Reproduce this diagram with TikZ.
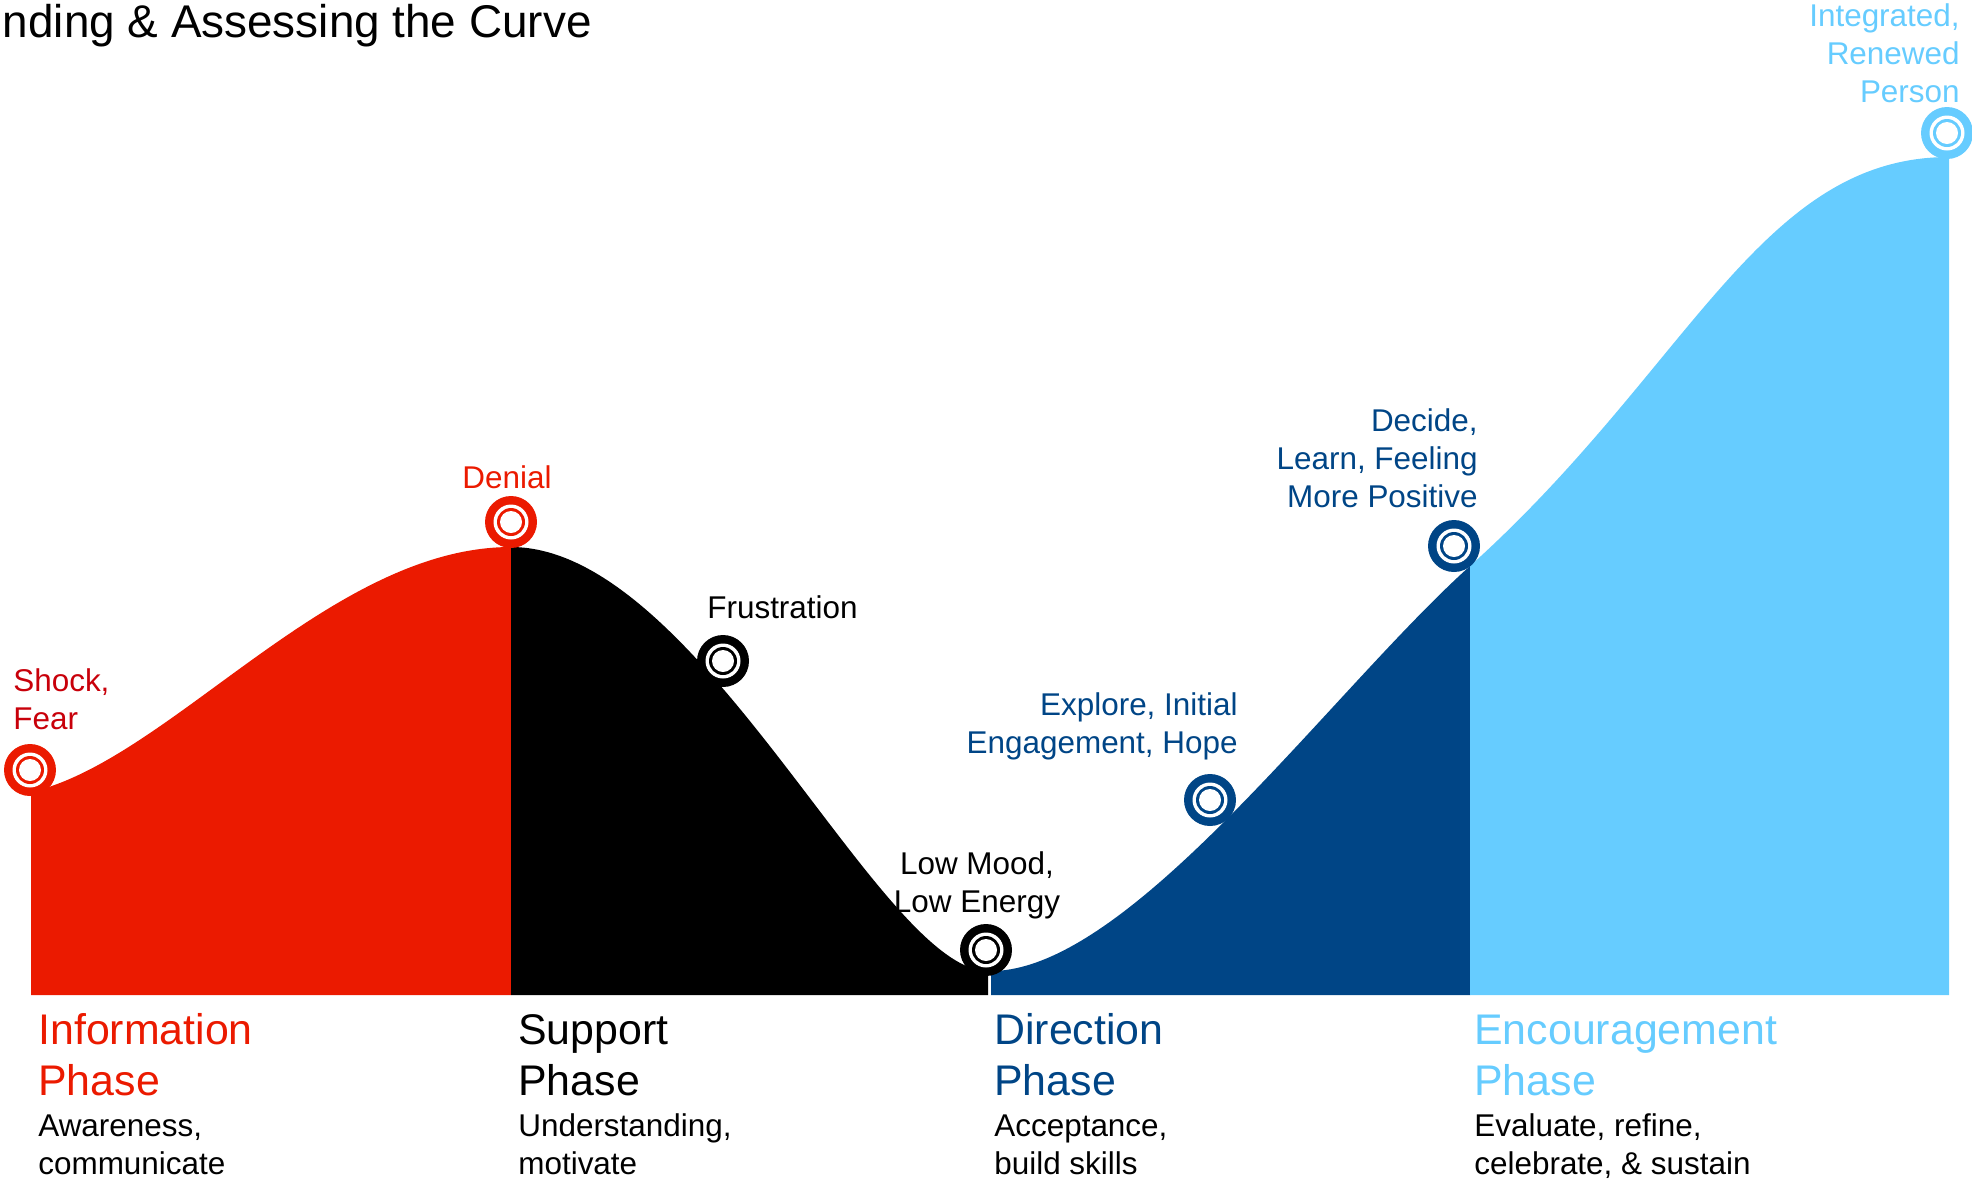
\documentclass[tikz,border=0pt]{standalone}
\usepackage{fontspec}
\setmainfont{Liberation Sans}
\usepackage{tikz}
\definecolor{RED}{HTML}{EB1A00}
\definecolor{DARKRED}{HTML}{C8000A}
\definecolor{BLACK}{HTML}{000000}
\definecolor{NAVY}{HTML}{004586}
\definecolor{SKY}{HTML}{66CCFF}

\newcommand{\ringmark}[2]{%
    \fill[#1] (#2) circle (26);
    \fill[white] (#2) circle (17.5);
    \fill[#1] (#2) circle (14);
    \fill[white] (#2) circle (11);
}

\begin{document}
\begin{tikzpicture}[x=0.02cm, y=-0.02cm,
    lbl/.style={inner sep=0pt, font=\fontsize{17.9}{21.5}\selectfont},
    phase/.style={inner sep=0pt, align=left, font=\fontsize{24.4}{28.9}\selectfont}]
    \useasboundingbox (0,0) rectangle (1972,1181);
    \node[anchor=base east, inner sep=0pt, font=\fontsize{26.1}{30}\selectfont] (title) at (592,37) {nding \& Assessing the Curve};
    \fill[RED] (31,995) -- (31,792) .. controls (170,760) and (330,547) .. (511,547) -- (511,995) -- cycle;
    \fill[BLACK] (511,995) -- (511,547) .. controls (700,547) and (880,971) .. (988,971) -- (988,995) -- cycle;
    \fill[NAVY] (991,995) -- (991,971) .. controls (1130,971) and (1330,692) .. (1470,566) -- (1470,995) -- cycle;
    \fill[SKY] (1470,995) -- (1470,566) .. controls (1690,368) and (1760,157) .. (1949,157) -- (1949,995) -- cycle;
    \ringmark{RED}{30,770}
    \ringmark{RED}{511,522}
    \ringmark{BLACK}{723,661}
    \ringmark{BLACK}{986,950}
    \ringmark{NAVY}{1210,800}
    \ringmark{NAVY}{1454,546}
    \ringmark{SKY}{1947,133}
    % multi-line nodes sit on the baseline of their last line
    \node[lbl, DARKRED, anchor=base west, align=left] (shock) at (13,729) {Shock,\\Fear};
    \node[lbl, RED, anchor=base] (denial) at (507,488) {Denial};
    \node[lbl, BLACK, anchor=base west] (frustration) at (707,618) {Frustration};
    \node[lbl, BLACK, anchor=base, align=center] (lowmood) at (977,912) {Low Mood,\\Low Energy};
    \node[lbl, NAVY, anchor=base east, align=right] (explore) at (1238,753) {Explore, Initial\\Engagement, Hope};
    \node[lbl, NAVY, anchor=base east, align=right] (decide) at (1478,507) {Decide,\\Learn, Feeling\\More Positive};
    \node[lbl, SKY, anchor=base east, align=right] (renewed) at (1960,102) {Integrated,\\Renewed\\Person};
    \node[phase, RED, anchor=base west] (info) at (38,1095) {Information\\Phase};
    \node[phase, BLACK, anchor=base west] (support) at (518,1095) {Support\\Phase};
    \node[phase, NAVY, anchor=base west] (direction) at (994,1095) {Direction\\Phase};
    \node[phase, SKY, anchor=base west] (encourage) at (1474,1095) {Encouragement\\Phase};
    \node[lbl, BLACK, anchor=base west, align=left] (infotext) at (38,1174) {Awareness,\\communicate};
    \node[lbl, BLACK, anchor=base west, align=left] (supporttext) at (518,1174) {Understanding,\\motivate};
    \node[lbl, BLACK, anchor=base west, align=left] (directiontext) at (994,1174) {Acceptance,\\build skills};
    \node[lbl, BLACK, anchor=base west, align=left] (encouragetext) at (1474,1174) {Evaluate, refine,\\celebrate, \& sustain};
\end{tikzpicture}
\end{document}
